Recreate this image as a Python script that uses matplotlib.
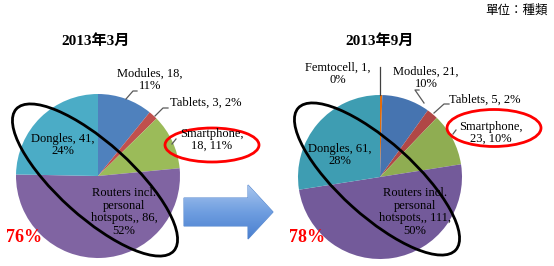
import numpy as np
import matplotlib
matplotlib.use("Agg")
import matplotlib.pyplot as plt
from matplotlib.patches import Ellipse, FancyArrow
from matplotlib.colors import LinearSegmentedColormap

# datos
cat_mar = ["Modules", "Tablets", "Smartphone", "Routers incl.\npersonal\nhotspots,", "Dongles"]
val_mar = [18, 3, 18, 86, 41]
pct_mar = ["11%", "2%", "11%", "52%", "24%"]

cat_sep = ["Femtocell", "Modules", "Tablets", "Smartphone", "Routers incl.\npersonal\nhotspots,", "Dongles"]
val_sep = [1, 21, 5, 23, 111, 61]
pct_sep = ["0%", "10%", "2%", "10%", "50%", "28%"]

col_mar = ["#4F81BD", "#C0504D", "#9BBB59", "#8064A2", "#4BACC6"]
col_sep = ["#E46C0A", "#4674B0", "#B04846", "#8FAD52", "#735A9A", "#3E9DB2"]

H = 266
serif = ["Liberation Serif", "Noto Sans CJK TC"]

fig = plt.figure(figsize=(5.54, 2.66), dpi=100)
ax = fig.add_axes([0, 0, 1, 1])

def Y(py):
    return H - py

# pies
ax.pie(val_mar, colors=col_mar, startangle=90, counterclock=False,
       center=(98, Y(176)), radius=82, frame=True,
       wedgeprops=dict(edgecolor="none", linewidth=0))
ax.pie(val_sep, colors=col_sep, startangle=90, counterclock=False,
       center=(380, Y(177)), radius=82, frame=True,
       wedgeprops=dict(edgecolor="none", linewidth=0))
ax.set_xlim(0, 554)
ax.set_ylim(0, H)
ax.set_aspect("auto")
ax.axis("off")

fs = 9

def lab(x, y, s):
    ax.text(x, Y(y), s, ha="center", va="center", fontsize=fs,
            family=serif, linespacing=1.05)

def leader(pts, c="#595959"):
    xs = [p[0] for p in pts]
    ys = [Y(p[1]) for p in pts]
    ax.plot(xs, ys, color=c, lw=0.9)

# etiquetas marzo
lab(150, 80, f"{cat_mar[0]}, {val_mar[0]},\n{pct_mar[0]}")
lab(206, 103, f"{cat_mar[1]}, {val_mar[1]}, {pct_mar[1]}")
lab(212, 140, f"{cat_mar[2]},\n{val_mar[2]}, {pct_mar[2]}")
lab(124, 212, f"{cat_mar[3]}, {val_mar[3]},\n{pct_mar[3]}")
lab(63, 145, f"{cat_mar[4]}, {val_mar[4]},\n{pct_mar[4]}")
leader([(126, 99), (133, 91), (137, 91)])
leader([(155, 116), (163, 108), (168, 108)])
leader([(172, 144), (176, 139)])

# etiquetas septiembre
lab(338, 74, f"{cat_sep[0]}, {val_sep[0]},\n{pct_sep[0]}")
lab(426, 78, f"{cat_sep[1]}, {val_sep[1]},\n{pct_sep[1]}")
lab(485, 100, f"{cat_sep[2]}, {val_sep[2]}, {pct_sep[2]}")
lab(491, 133, f"{cat_sep[3]},\n{val_sep[3]}, {pct_sep[3]}")
lab(415, 212, f"{cat_sep[4]}, {val_sep[4]},\n{pct_sep[4]}")
lab(340, 155, f"{cat_sep[5]}, {val_sep[5]},\n{pct_sep[5]}")
leader([(380, 67), (380, 95)], c="#404040")
leader([(424, 103), (415, 90), (419, 90)])
leader([(434, 113), (444, 104), (449, 104)])
leader([(453, 134), (456, 130)])

# titulos
ax.text(96, Y(41), "2013年3月", ha="center", va="center", fontsize=11,
        fontweight="bold", family=serif)
ax.text(380, Y(41), "2013年9月", ha="center", va="center", fontsize=11,
        fontweight="bold", family=serif)
ax.text(548, Y(10), "單位：種類", ha="right", va="center", fontsize=9,
        family=["Noto Sans CJK TC"])

# porcentajes
ax.text(24, Y(237), "76%", ha="center", va="center", fontsize=13,
        fontweight="bold", color="#FF0000", family=serif)
ax.text(307, Y(237), "78%", ha="center", va="center", fontsize=13,
        fontweight="bold", color="#FF0000", family=serif)

# elipses
ax.add_patch(Ellipse((95, Y(180)), 212, 74, angle=-42, fill=False,
                     edgecolor="black", lw=2))
ax.add_patch(Ellipse((377, Y(179)), 212, 74, angle=-42, fill=False,
                     edgecolor="black", lw=2))
ax.add_patch(Ellipse((212, Y(145)), 94, 34, fill=False,
                     edgecolor="#FF0000", lw=2))
ax.add_patch(Ellipse((494, Y(128)), 94, 37, fill=False,
                     edgecolor="#FF0000", lw=2))

# flecha con degradado
arrow = FancyArrow(184, Y(212), 89, 0, width=28, head_width=54,
                   head_length=25, length_includes_head=True,
                   facecolor="none", edgecolor="#5B8BD0", lw=0.8)
ax.add_patch(arrow)
cmap = LinearSegmentedColormap.from_list("azul", ["#A7C5EE", "#6F9EE0", "#4A7FCF"])
grad = np.linspace(0, 1, 100).reshape(-1, 1)
im = ax.imshow(grad, cmap=cmap, extent=(184, 273, Y(239), Y(185)),
               aspect="auto", origin="upper", zorder=1.5)
im.set_clip_path(arrow)
ax.set_xlim(0, 554)
ax.set_ylim(0, H)

fig.savefig("out.png", dpi=100)
